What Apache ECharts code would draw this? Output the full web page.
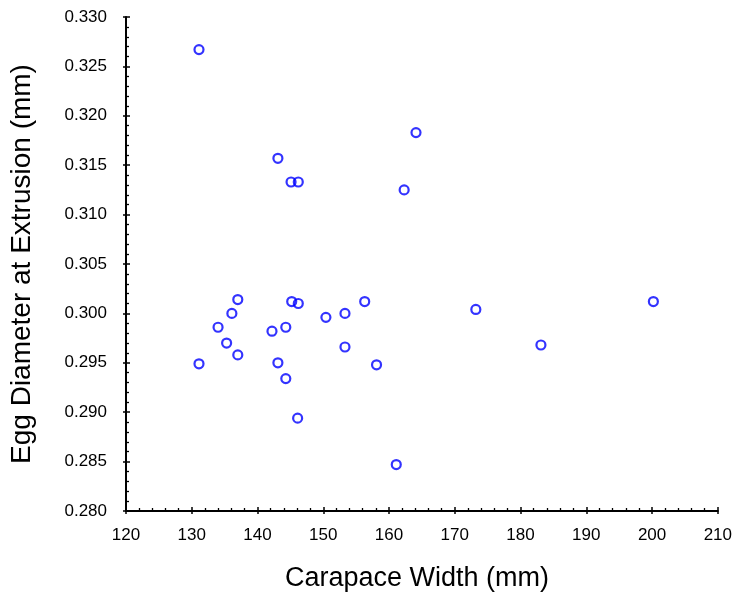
<!DOCTYPE html>
<html>
<head>
<meta charset="utf-8">
<script src="https://cdn.jsdelivr.net/npm/echarts@6/dist/echarts.min.js"></script>
<style>
  html, body { margin: 0; padding: 0; background: #fff; }
  #chart { width: 735px; height: 597px; }
</style>
</head>
<body>
<div id="chart"></div>
<script>
// Carapace width (mm) of each female and the egg diameter (mm) at extrusion
const carapaceWidth = [
  131.1, 131.1, 134.0, 135.3, 136.1, 137.0, 137.0, 142.2, 143.1, 143.1,
  144.3, 144.3, 145.1, 145.2, 146.1, 146.2, 146.2, 150.4, 153.3, 153.3,
  156.3, 158.1, 161.1, 162.3, 164.1, 173.2, 183.1, 200.2
];
const eggDiameter = [
  0.3267, 0.2949, 0.2986, 0.2970, 0.3000, 0.3014, 0.2958, 0.2982, 0.2950, 0.3157,
  0.2986, 0.2934, 0.3133, 0.3012, 0.2894, 0.3010, 0.3133, 0.2996, 0.3000, 0.2966,
  0.3012, 0.2948, 0.2847, 0.3125, 0.3183, 0.3004, 0.2968, 0.3012
];

const xRange = { min: 120, max: 210, step: 10 };
const yRange = { min: 0.280, max: 0.330, step: 0.005 };

const points = carapaceWidth.map((w, i) => [w, eggDiameter[i]]);

const font = 'Liberation Sans, Arial, sans-serif';
const ink = '#000';

const chart = echarts.init(document.getElementById('chart'), null, { renderer: 'canvas' });

// Each axis is drawn twice: the primary one carries line, labels, inner ticks
// and minor ticks; the twin adds the outer half of the major ticks.
const baseX = {
  type: 'value', min: xRange.min, max: xRange.max, interval: xRange.step,
  splitLine: { show: false }
};
const baseY = {
  type: 'value', min: yRange.min, max: yRange.max, interval: yRange.step,
  splitLine: { show: false }
};

chart.setOption({
  animation: false,
  backgroundColor: '#fff',
  grid: { left: 124, right: 14, top: 17, bottom: 85, containLabel: false },
  xAxis: [
    Object.assign({}, baseX, {
      position: 'bottom',
      name: 'Carapace Width (mm)',
      nameLocation: 'middle',
      nameGap: 54,
      nameTextStyle: { fontFamily: font, fontSize: 27, color: ink, padding: [0, 10, 0, 0] },
      axisLine: { show: true, onZero: false, lineStyle: { color: ink, width: 2 } },
      axisTick: { show: true, inside: true, length: 4, lineStyle: { color: ink, width: 1.5 } },
      minorTick: { show: true, splitNumber: 5, length: 3, lineStyle: { color: ink, width: 1.3 } },
      axisLabel: { fontFamily: font, fontSize: 17, color: ink, margin: 16,
        formatter: v => String(v) }
    }),
    Object.assign({}, baseX, {
      position: 'bottom',
      axisLine: { show: false, onZero: false },
      axisTick: { show: true, inside: false, length: 3, lineStyle: { color: ink, width: 1.5 } },
      axisLabel: { show: false }
    })
  ],
  yAxis: [
    Object.assign({}, baseY, {
      position: 'left',
      name: 'Egg Diameter at Extrusion (mm)',
      nameLocation: 'middle',
      nameGap: 90,
      nameTextStyle: { fontFamily: font, fontSize: 28, color: ink },
      axisLine: { show: true, onZero: false, lineStyle: { color: ink, width: 2 } },
      axisTick: { show: true, inside: true, length: 4, lineStyle: { color: ink, width: 1.5 } },
      minorTick: { show: true, splitNumber: 5, length: 3, lineStyle: { color: ink, width: 1.3 } },
      axisLabel: { fontFamily: font, fontSize: 17, color: ink, margin: 19,
        formatter: v => v.toFixed(3) }
    }),
    Object.assign({}, baseY, {
      position: 'left',
      axisLine: { show: false, onZero: false },
      axisTick: { show: true, inside: false, length: 3, lineStyle: { color: ink, width: 1.5 } },
      axisLabel: { show: false }
    })
  ],
  series: [{
    type: 'scatter',
    xAxisIndex: 0,
    yAxisIndex: 0,
    data: points,
    symbol: 'circle',
    symbolSize: 9,
    itemStyle: { color: 'rgba(255,255,255,0)', borderColor: '#0000ff', borderWidth: 2.2 },
    emphasis: { disabled: true }
  }]
});
</script>
</body>
</html>
